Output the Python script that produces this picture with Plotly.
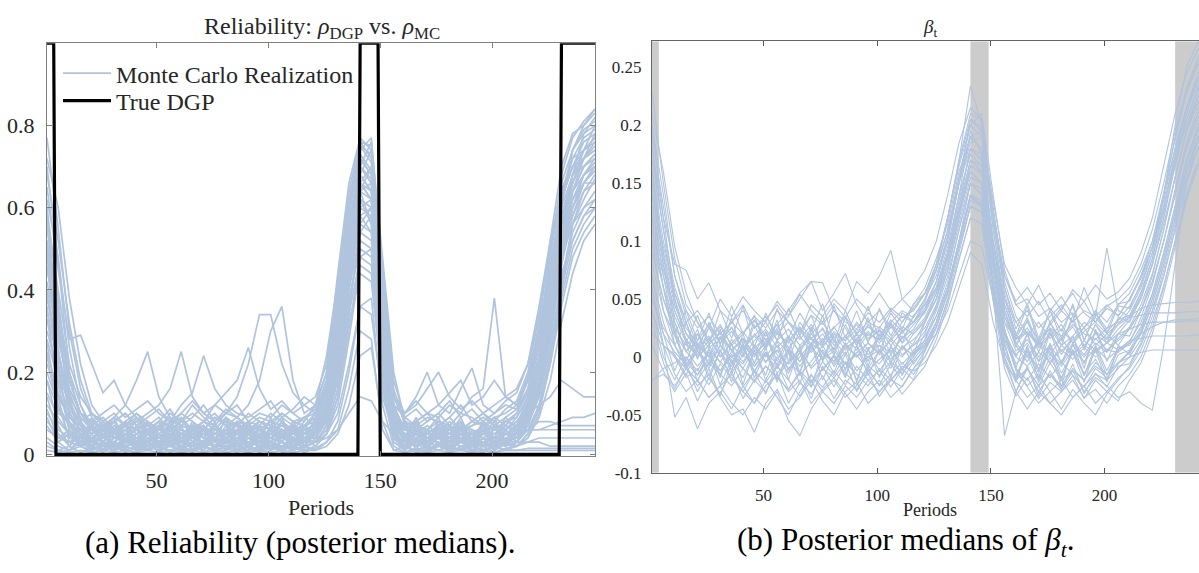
import plotly.graph_objects as go

W, H = 1199, 573

# ---------------- data ----------------
periods = list(range(1, 247, 5))  # sampling grid of the realizations (t = 1, 6, ..., 246)

# True DGP reliability (regime switch points)
dgp_periods = [1, 4, 5, 140, 141, 149, 150, 230, 231, 246]
dgp_rho = [1, 1, 0, 0, 1, 1, 0, 0, 1, 1]

# Regime shading in panel (b)
shade_start = [1, 141, 231]
shade_end = [4, 149, 246]

x_ticks = [50, 100, 150, 200]
rho_ticks = [0, 0.2, 0.4, 0.6, 0.8]
rho_tick_text = ["0", "0.2", "0.4", "0.6", "0.8"]
beta_ticks = [-0.1, -0.05, 0, 0.05, 0.1, 0.15, 0.2, 0.25]
beta_tick_text = ["-0.1", "-0.05", "0", "0.05", "0.1", "0.15", "0.2", "0.25"]

# Monte Carlo realizations of rho (panel a)
rho_run01 = [0.77,0.55,0.30,0.16,0.09,0.06,0.05,0.04,0.05,0.03, 0.04,0.05,0.03,0.04,0.06,0.04,0.03,0.05,0.04,0.03, 0.05,0.04,0.06,0.05,0.08,0.14,0.30,0.52,0.74,0.77, 0.45,0.16,0.07,0.05,0.04,0.06,0.04,0.03,0.05,0.04, 0.03,0.05,0.06,0.09,0.17,0.32,0.52,0.68,0.78,0.82]
rho_run02 = [0.72,0.60,0.38,0.22,0.12,0.08,0.06,0.07,0.05,0.06, 0.04,0.03,0.05,0.07,0.05,0.04,0.06,0.05,0.07,0.06, 0.05,0.07,0.05,0.06,0.10,0.18,0.36,0.58,0.76,0.72, 0.38,0.12,0.06,0.05,0.07,0.05,0.06,0.04,0.05,0.06, 0.05,0.06,0.08,0.12,0.22,0.40,0.60,0.74,0.80,0.84]
rho_run03 = [0.65,0.45,0.28,0.29,0.22,0.15,0.18,0.12,0.09,0.07, 0.06,0.08,0.05,0.07,0.06,0.09,0.07,0.05,0.06,0.08, 0.07,0.06,0.05,0.08,0.12,0.24,0.42,0.62,0.70,0.66, 0.34,0.14,0.08,0.06,0.05,0.07,0.06,0.08,0.05,0.07, 0.06,0.08,0.10,0.16,0.28,0.46,0.62,0.70,0.76,0.78]
rho_run04 = [0.50,0.32,0.18,0.10,0.07,0.05,0.06,0.08,0.06,0.07, 0.09,0.06,0.08,0.10,0.08,0.12,0.10,0.14,0.22,0.34, 0.34,0.22,0.15,0.12,0.10,0.16,0.30,0.48,0.64,0.70, 0.40,0.14,0.08,0.07,0.06,0.05,0.08,0.06,0.07,0.09, 0.07,0.06,0.09,0.14,0.24,0.40,0.56,0.66,0.72,0.76]
rho_run05 = [0.40,0.25,0.14,0.09,0.06,0.08,0.05,0.07,0.09,0.06, 0.08,0.11,0.07,0.09,0.12,0.08,0.10,0.09,0.12,0.18, 0.30,0.36,0.18,0.10,0.12,0.20,0.38,0.56,0.68,0.64, 0.30,0.10,0.06,0.08,0.10,0.07,0.09,0.12,0.08,0.10, 0.08,0.11,0.13,0.20,0.34,0.50,0.64,0.72,0.74,0.80]
rho_run06 = [0.30,0.20,0.12,0.08,0.10,0.07,0.09,0.12,0.18,0.25, 0.14,0.09,0.07,0.06,0.08,0.07,0.05,0.06,0.08,0.07, 0.06,0.05,0.07,0.09,0.07,0.12,0.26,0.46,0.60,0.62, 0.28,0.09,0.05,0.04,0.06,0.05,0.04,0.06,0.05,0.04, 0.06,0.05,0.07,0.10,0.18,0.30,0.46,0.58,0.66,0.70]
rho_run07 = [0.58,0.40,0.22,0.14,0.10,0.08,0.10,0.07,0.08,0.10, 0.12,0.16,0.25,0.14,0.10,0.08,0.11,0.09,0.07,0.09, 0.08,0.10,0.08,0.07,0.10,0.18,0.34,0.56,0.72,0.68, 0.36,0.12,0.09,0.11,0.08,0.10,0.13,0.09,0.11,0.08, 0.10,0.12,0.11,0.18,0.30,0.48,0.66,0.74,0.78,0.80]
rho_run08 = [0.45,0.30,0.16,0.10,0.08,0.10,0.12,0.09,0.11,0.13, 0.10,0.08,0.12,0.15,0.24,0.16,0.12,0.10,0.09,0.11, 0.13,0.09,0.11,0.14,0.12,0.16,0.28,0.44,0.58,0.60, 0.32,0.14,0.10,0.12,0.16,0.20,0.14,0.11,0.13,0.10, 0.12,0.14,0.16,0.22,0.36,0.52,0.64,0.70,0.72,0.74]
rho_run09 = [0.35,0.22,0.12,0.07,0.05,0.06,0.08,0.10,0.07,0.09, 0.11,0.08,0.10,0.13,0.10,0.12,0.15,0.18,0.26,0.16, 0.11,0.13,0.10,0.12,0.14,0.22,0.40,0.62,0.75,0.71, 0.42,0.15,0.10,0.13,0.10,0.12,0.15,0.18,0.12,0.14, 0.18,0.14,0.12,0.19,0.30,0.44,0.60,0.68,0.70,0.72]
rho_run10 = [0.25,0.15,0.08,0.05,0.04,0.06,0.05,0.07,0.06,0.05, 0.07,0.06,0.08,0.06,0.07,0.05,0.06,0.08,0.07,0.06, 0.08,0.07,0.06,0.07,0.09,0.14,0.28,0.50,0.66,0.62, 0.30,0.10,0.07,0.08,0.10,0.09,0.12,0.10,0.14,0.16, 0.38,0.14,0.12,0.18,0.28,0.42,0.56,0.64,0.68,0.70]
rho_run11 = [0.10,0.06,0.04,0.03,0.02,0.03,0.02,0.03,0.02,0.02, 0.03,0.02,0.03,0.02,0.03,0.02,0.02,0.03,0.02,0.03, 0.02,0.03,0.02,0.03,0.03,0.04,0.06,0.10,0.14,0.13, 0.08,0.05,0.03,0.02,0.03,0.02,0.03,0.02,0.02,0.03, 0.02,0.03,0.02,0.03,0.03,0.02,0.02,0.02,0.02,0.02]
rho_run12 = [0.20,0.12,0.07,0.05,0.04,0.05,0.04,0.05,0.04,0.06, 0.05,0.04,0.05,0.04,0.06,0.05,0.04,0.05,0.06,0.04, 0.05,0.04,0.05,0.04,0.05,0.08,0.18,0.34,0.48,0.46, 0.22,0.08,0.05,0.04,0.05,0.04,0.06,0.05,0.04,0.05, 0.04,0.05,0.05,0.06,0.06,0.06,0.06,0.06,0.06,0.06]
rho_run13 = [0.15,0.09,0.05,0.04,0.03,0.04,0.05,0.03,0.04,0.03, 0.05,0.04,0.03,0.05,0.04,0.03,0.04,0.05,0.03,0.04, 0.03,0.05,0.04,0.03,0.06,0.12,0.30,0.54,0.70,0.67, 0.36,0.10,0.04,0.03,0.04,0.05,0.03,0.04,0.03,0.05, 0.04,0.03,0.05,0.06,0.08,0.08,0.07,0.07,0.07,0.07]
rho_run14 = [0.55,0.35,0.18,0.10,0.06,0.04,0.05,0.06,0.04,0.05, 0.06,0.05,0.04,0.06,0.05,0.07,0.05,0.04,0.06,0.05, 0.04,0.06,0.05,0.06,0.07,0.10,0.22,0.42,0.60,0.58, 0.30,0.10,0.06,0.05,0.04,0.06,0.05,0.07,0.06,0.05, 0.07,0.06,0.08,0.10,0.12,0.14,0.18,0.16,0.14,0.14]
rho_run15 = [0.62,0.48,0.26,0.12,0.06,0.03,0.02,0.03,0.04,0.02, 0.03,0.04,0.02,0.03,0.02,0.04,0.03,0.02,0.03,0.04, 0.03,0.02,0.04,0.03,0.05,0.10,0.24,0.48,0.68,0.74, 0.44,0.12,0.04,0.02,0.03,0.04,0.02,0.03,0.04,0.03, 0.02,0.04,0.05,0.08,0.16,0.30,0.50,0.64,0.72,0.78]
rho_run16 = [0.08,0.05,0.03,0.02,0.01,0.02,0.01,0.02,0.01,0.02, 0.01,0.02,0.01,0.01,0.02,0.01,0.02,0.01,0.02,0.01, 0.02,0.01,0.02,0.01,0.02,0.05,0.14,0.34,0.56,0.60, 0.26,0.06,0.02,0.01,0.02,0.01,0.02,0.01,0.02,0.01, 0.02,0.01,0.02,0.04,0.10,0.22,0.40,0.56,0.64,0.68]
rho_run17 = [0.48,0.30,0.15,0.08,0.05,0.07,0.04,0.06,0.08,0.05, 0.07,0.09,0.06,0.05,0.08,0.06,0.09,0.07,0.05,0.08, 0.06,0.09,0.07,0.05,0.08,0.16,0.34,0.60,0.73,0.69, 0.34,0.11,0.06,0.08,0.05,0.07,0.09,0.06,0.08,0.07, 0.09,0.07,0.10,0.15,0.26,0.42,0.58,0.66,0.74,0.77]
rho_run18 = [0.38,0.24,0.13,0.07,0.04,0.03,0.05,0.04,0.03,0.05, 0.04,0.03,0.05,0.04,0.03,0.05,0.04,0.06,0.04,0.03, 0.05,0.04,0.03,0.05,0.06,0.11,0.26,0.50,0.64,0.56, 0.24,0.08,0.04,0.05,0.03,0.04,0.05,0.03,0.04,0.06, 0.04,0.05,0.07,0.12,0.20,0.36,0.54,0.62,0.66,0.66]
rho_run19 = [0.68,0.52,0.32,0.18,0.10,0.07,0.08,0.10,0.07,0.06, 0.08,0.07,0.10,0.08,0.06,0.09,0.08,0.07,0.10,0.08, 0.07,0.10,0.08,0.09,0.11,0.20,0.44,0.66,0.77,0.74, 0.46,0.18,0.09,0.07,0.09,0.08,0.07,0.10,0.09,0.07, 0.09,0.10,0.12,0.18,0.32,0.52,0.70,0.78,0.80,0.83]
rho_run20 = [0.18,0.11,0.07,0.05,0.06,0.04,0.07,0.05,0.06,0.08, 0.06,0.05,0.07,0.06,0.08,0.06,0.05,0.07,0.06,0.08, 0.07,0.05,0.07,0.06,0.07,0.12,0.24,0.40,0.54,0.52, 0.26,0.09,0.06,0.07,0.06,0.08,0.06,0.05,0.07,0.08, 0.06,0.08,0.09,0.14,0.24,0.36,0.48,0.56,0.60,0.62]
rho_run21 = [0.28,0.18,0.10,0.06,0.03,0.02,0.04,0.03,0.02,0.03, 0.02,0.04,0.03,0.02,0.03,0.02,0.03,0.04,0.02,0.03, 0.04,0.03,0.02,0.04,0.04,0.08,0.20,0.40,0.58,0.54, 0.28,0.08,0.03,0.02,0.04,0.03,0.02,0.03,0.02,0.03, 0.04,0.03,0.04,0.07,0.14,0.26,0.42,0.54,0.60,0.64]
rho_run22 = [0.42,0.28,0.16,0.10,0.08,0.06,0.09,0.07,0.10,0.08, 0.06,0.10,0.08,0.12,0.09,0.07,0.10,0.12,0.08,0.10, 0.09,0.12,0.10,0.08,0.12,0.20,0.36,0.54,0.62,0.60, 0.32,0.12,0.10,0.14,0.20,0.12,0.10,0.16,0.21,0.12, 0.10,0.13,0.15,0.22,0.34,0.50,0.62,0.70,0.74,0.76]
rho_run23 = [0.12,0.08,0.05,0.03,0.02,0.01,0.02,0.01,0.02,0.01, 0.02,0.01,0.02,0.01,0.02,0.01,0.02,0.02,0.01,0.02, 0.01,0.02,0.01,0.02,0.03,0.06,0.16,0.36,0.52,0.50, 0.20,0.05,0.02,0.01,0.02,0.01,0.02,0.01,0.02,0.01, 0.02,0.01,0.03,0.06,0.12,0.24,0.38,0.50,0.56,0.60]
rho_run24 = [0.06,0.04,0.03,0.02,0.03,0.02,0.03,0.02,0.03,0.02, 0.03,0.02,0.03,0.02,0.03,0.02,0.03,0.02,0.03,0.02, 0.03,0.02,0.03,0.02,0.03,0.05,0.10,0.22,0.36,0.34, 0.14,0.05,0.03,0.02,0.03,0.02,0.03,0.02,0.03,0.02, 0.03,0.02,0.03,0.03,0.04,0.04,0.04,0.04,0.04,0.04]
rho_run25 = [0.52,0.36,0.20,0.12,0.07,0.09,0.06,0.08,0.10,0.07, 0.05,0.07,0.09,0.06,0.08,0.10,0.07,0.09,0.06,0.07, 0.10,0.08,0.06,0.09,0.10,0.15,0.32,0.55,0.70,0.76, 0.48,0.20,0.08,0.06,0.08,0.10,0.07,0.06,0.08,0.10, 0.07,0.09,0.11,0.16,0.28,0.44,0.62,0.72,0.77,0.79]
rho_run26 = [0.22,0.14,0.09,0.06,0.05,0.07,0.05,0.04,0.06,0.04, 0.05,0.07,0.05,0.04,0.05,0.07,0.05,0.04,0.05,0.06, 0.04,0.06,0.05,0.04,0.06,0.09,0.20,0.38,0.50,0.48, 0.22,0.07,0.05,0.06,0.04,0.05,0.07,0.05,0.04,0.06, 0.05,0.07,0.06,0.10,0.18,0.30,0.44,0.52,0.58,0.60]
rho_run27 = [0.33,0.17,0.06,0.02,0.05,0.01,0.06,0.02,0.07,0.01, 0.05,0.02,0.07,0.01,0.06,0.03,0.07,0.01,0.05,0.02, 0.07,0.01,0.06,0.02,0.05,0.09,0.22,0.45,0.66,0.70, 0.36,0.07,0.01,0.06,0.02,0.07,0.01,0.05,0.02,0.06, 0.01,0.06,0.03,0.08,0.15,0.28,0.46,0.60,0.68,0.72]
rho_run28 = [0.46,0.26,0.09,0.07,0.01,0.06,0.02,0.08,0.01,0.06, 0.02,0.07,0.01,0.05,0.02,0.08,0.01,0.06,0.02,0.07, 0.01,0.06,0.02,0.07,0.03,0.12,0.30,0.52,0.70,0.66, 0.30,0.04,0.07,0.01,0.06,0.02,0.07,0.01,0.06,0.02, 0.07,0.02,0.06,0.11,0.20,0.36,0.54,0.66,0.72,0.75]
rho_run29 = [0.14,0.05,0.02,0.06,0.03,0.07,0.01,0.05,0.03,0.08, 0.02,0.06,0.03,0.07,0.02,0.05,0.08,0.02,0.06,0.01, 0.05,0.08,0.02,0.06,0.04,0.08,0.18,0.36,0.54,0.58, 0.24,0.06,0.02,0.07,0.03,0.06,0.01,0.07,0.03,0.08, 0.02,0.05,0.04,0.09,0.16,0.30,0.48,0.58,0.64,0.66]
rho_run30 = [0.60,0.38,0.14,0.04,0.07,0.03,0.06,0.01,0.05,0.07, 0.03,0.06,0.01,0.07,0.04,0.02,0.06,0.03,0.08,0.02, 0.06,0.03,0.07,0.02,0.06,0.13,0.32,0.58,0.75,0.73, 0.40,0.09,0.03,0.06,0.01,0.07,0.03,0.06,0.02,0.07, 0.03,0.07,0.05,0.12,0.24,0.42,0.62,0.74,0.79,0.81]
rho_run31 = [0.04,0.02,0.01,0.04,0.01,0.03,0.01,0.04,0.01,0.03, 0.01,0.04,0.01,0.03,0.01,0.04,0.01,0.03,0.01,0.04, 0.01,0.03,0.01,0.04,0.02,0.05,0.12,0.28,0.46,0.44, 0.16,0.03,0.01,0.04,0.01,0.03,0.01,0.04,0.01,0.03, 0.01,0.04,0.02,0.05,0.11,0.22,0.36,0.48,0.54,0.58]
rho_run32 = [0.24,0.10,0.08,0.03,0.09,0.04,0.08,0.03,0.09,0.05, 0.08,0.03,0.09,0.04,0.07,0.03,0.09,0.05,0.08,0.03, 0.09,0.04,0.08,0.03,0.09,0.15,0.34,0.54,0.66,0.62, 0.28,0.08,0.04,0.09,0.03,0.08,0.05,0.09,0.03,0.08, 0.04,0.09,0.06,0.13,0.22,0.38,0.56,0.68,0.74,0.77]
rho_run33 = [0.52,0.31,0.12,0.05,0.02,0.05,0.03,0.06,0.02,0.05, 0.03,0.06,0.02,0.04,0.06,0.02,0.05,0.03,0.06,0.02, 0.04,0.06,0.02,0.05,0.05,0.10,0.26,0.50,0.68,0.64, 0.32,0.06,0.02,0.05,0.03,0.06,0.02,0.05,0.03,0.06, 0.02,0.05,0.04,0.09,0.18,0.34,0.52,0.64,0.70,0.73]
rho_run34 = [0.09,0.03,0.05,0.02,0.07,0.02,0.04,0.07,0.02,0.05, 0.07,0.02,0.05,0.02,0.07,0.03,0.05,0.07,0.02,0.06, 0.02,0.05,0.07,0.02,0.06,0.10,0.24,0.46,0.62,0.60, 0.26,0.05,0.07,0.02,0.05,0.07,0.02,0.06,0.02,0.05, 0.07,0.02,0.06,0.08,0.14,0.26,0.42,0.56,0.62,0.67]
rho_run35 = [0.70,0.47,0.20,0.08,0.03,0.08,0.04,0.07,0.03,0.08, 0.04,0.07,0.03,0.08,0.04,0.07,0.03,0.08,0.05,0.07, 0.03,0.08,0.04,0.07,0.08,0.17,0.40,0.64,0.76,0.75, 0.44,0.12,0.04,0.08,0.03,0.07,0.04,0.08,0.03,0.07, 0.04,0.08,0.07,0.14,0.28,0.48,0.68,0.77,0.81,0.84]
rho_run36 = [0.18,0.07,0.02,0.05,0.01,0.06,0.02,0.04,0.01,0.06, 0.02,0.05,0.01,0.06,0.02,0.04,0.01,0.06,0.02,0.05, 0.01,0.06,0.02,0.04,0.03,0.07,0.16,0.32,0.44,0.42, 0.18,0.04,0.01,0.06,0.02,0.05,0.01,0.06,0.02,0.04, 0.01,0.06,0.03,0.06,0.06,0.07,0.08,0.09,0.09,0.10]
rho_run37 = [0.40,0.20,0.07,0.03,0.06,0.03,0.07,0.04,0.06,0.03, 0.07,0.04,0.06,0.03,0.07,0.04,0.06,0.03,0.07,0.04, 0.06,0.03,0.07,0.04,0.07,0.14,0.36,0.60,0.72,0.68, 0.34,0.08,0.03,0.07,0.04,0.06,0.03,0.07,0.04,0.06, 0.03,0.07,0.06,0.11,0.22,0.40,0.58,0.68,0.72,0.74]
rho_run38 = [0.27,0.12,0.04,0.08,0.02,0.06,0.09,0.03,0.07,0.02, 0.06,0.09,0.03,0.07,0.02,0.06,0.09,0.03,0.07,0.02, 0.06,0.09,0.03,0.07,0.05,0.11,0.28,0.50,0.62,0.56, 0.22,0.05,0.08,0.02,0.06,0.09,0.03,0.07,0.02,0.06, 0.09,0.03,0.07,0.10,0.18,0.32,0.50,0.62,0.68,0.71]
rho_run39 = [0.57,0.34,0.11,0.02,0.04,0.01,0.03,0.05,0.01,0.04, 0.02,0.05,0.01,0.03,0.05,0.01,0.04,0.02,0.05,0.01, 0.03,0.05,0.01,0.04,0.04,0.09,0.24,0.48,0.64,0.62, 0.30,0.05,0.01,0.04,0.02,0.05,0.01,0.03,0.05,0.01, 0.04,0.02,0.05,0.08,0.16,0.32,0.50,0.62,0.68,0.70]
rho_run40 = [0.11,0.04,0.06,0.03,0.08,0.02,0.05,0.08,0.03,0.06, 0.02,0.08,0.04,0.06,0.02,0.07,0.04,0.08,0.02,0.05, 0.08,0.03,0.06,0.02,0.07,0.12,0.26,0.44,0.56,0.54, 0.24,0.07,0.03,0.08,0.02,0.06,0.04,0.08,0.02,0.05, 0.08,0.03,0.05,0.10,0.20,0.34,0.50,0.60,0.66,0.69]
rho_run41 = [0.03,0.01,0.02,0.005,0.015,0.005,0.02,0.005,0.015,0.01, 0.02,0.005,0.015,0.005,0.02,0.01,0.015,0.005,0.02,0.005, 0.015,0.01,0.02,0.005,0.015,0.03,0.08,0.20,0.36,0.38, 0.12,0.02,0.005,0.015,0.005,0.02,0.01,0.015,0.005,0.02, 0.005,0.015,0.02,0.04,0.09,0.18,0.32,0.44,0.52,0.56]
rho_run42 = [0.01,0.005,0.01,0.02,0.005,0.01,0.025,0.01,0.005,0.02, 0.01,0.03,0.005,0.01,0.025,0.005,0.01,0.02,0.005,0.015, 0.03,0.005,0.01,0.02,0.01,0.02,0.05,0.12,0.24,0.26, 0.08,0.01,0.02,0.005,0.01,0.025,0.005,0.02,0.01,0.005, 0.02,0.01,0.01,0.015,0.015,0.015,0.015,0.015,0.015,0.015]
rho_run43 = [0.50,0.22,0.05,0.02,0.035,0.01,0.03,0.015,0.04,0.01, 0.03,0.02,0.04,0.01,0.035,0.015,0.03,0.01,0.04,0.02, 0.03,0.01,0.035,0.015,0.03,0.07,0.20,0.44,0.64,0.66, 0.30,0.04,0.01,0.035,0.015,0.04,0.01,0.03,0.02,0.04, 0.01,0.035,0.03,0.07,0.15,0.30,0.48,0.60,0.66,0.70]
rho_run44 = [0.07,0.03,0.01,0.03,0.01,0.025,0.005,0.03,0.015,0.035, 0.005,0.025,0.01,0.03,0.005,0.02,0.035,0.01,0.025,0.005, 0.03,0.015,0.035,0.01,0.02,0.05,0.14,0.30,0.48,0.50, 0.18,0.03,0.01,0.03,0.005,0.025,0.015,0.035,0.005,0.03, 0.01,0.025,0.02,0.05,0.12,0.24,0.40,0.52,0.58,0.62]
rho_run45 = [0.36,0.14,0.03,0.045,0.02,0.05,0.015,0.04,0.025,0.05, 0.015,0.045,0.02,0.05,0.01,0.04,0.025,0.05,0.015,0.045, 0.02,0.05,0.015,0.04,0.04,0.09,0.26,0.50,0.66,0.64, 0.26,0.04,0.02,0.05,0.015,0.045,0.02,0.05,0.01,0.04, 0.025,0.05,0.04,0.09,0.18,0.34,0.52,0.64,0.70,0.73]
rho_run46 = [0.02,0.01,0.005,0.01,0.005,0.01,0.005,0.01,0.005,0.01, 0.005,0.01,0.005,0.01,0.005,0.01,0.005,0.01,0.005,0.01, 0.005,0.01,0.005,0.01,0.01,0.03,0.06,0.16,0.30,0.28, 0.06,0.01,0.005,0.01,0.005,0.01,0.005,0.01,0.005,0.01, 0.005,0.01,0.01,0.01,0.01,0.01,0.01,0.01,0.01,0.01]

# Monte Carlo posterior medians of beta_t (panel b)
beta_run01 = [0.229,0.150,0.085,0.045,0.030,0.012,0.020,0.005,0.015,-0.005, 0.010,0.022,0.008,-0.004,0.012,0.025,0.010,0.018,0.006,0.020, 0.015,0.028,0.020,0.035,0.050,0.080,0.120,0.170,0.234,0.200, 0.120,0.065,0.035,0.020,0.012,0.025,0.010,0.018,0.030,0.022, 0.015,0.028,0.040,0.060,0.090,0.140,0.200,0.250,0.272,0.270]
beta_run02 = [0.200,0.140,0.070,0.035,0.010,0.000,-0.015,0.005,-0.010,0.008, -0.005,0.010,-0.012,0.004,-0.008,0.006,-0.004,0.012,0.000,0.008, 0.010,0.004,0.016,0.024,0.040,0.065,0.100,0.150,0.205,0.195, 0.110,0.050,0.020,0.000,0.012,-0.006,0.010,0.002,0.014,0.006, 0.012,0.020,0.032,0.050,0.080,0.120,0.170,0.210,0.240,0.255]
beta_run03 = [0.180,0.120,0.080,0.075,0.050,0.064,0.040,0.030,0.045,0.025, 0.035,0.020,0.030,0.015,0.028,0.012,0.025,0.035,0.020,0.030, 0.025,0.040,0.030,0.045,0.060,0.085,0.115,0.160,0.190,0.180, 0.120,0.070,0.045,0.050,0.035,0.042,0.030,0.038,0.025,0.040, 0.030,0.045,0.055,0.075,0.100,0.140,0.180,0.215,0.235,0.245]
beta_run04 = [0.060,0.010,-0.052,-0.035,-0.062,-0.040,-0.030,-0.045,-0.025,-0.040, -0.020,-0.035,-0.050,-0.030,-0.015,-0.030,-0.020,-0.035,-0.025,-0.010, -0.025,-0.015,-0.005,-0.015,0.000,0.020,0.050,0.090,0.130,0.125, 0.060,0.010,-0.020,-0.010,-0.030,-0.015,-0.025,-0.010,-0.020,-0.005, -0.015,-0.005,0.005,0.020,0.045,0.080,0.120,0.160,0.190,0.200]
beta_run05 = [0.110,0.060,0.020,-0.010,-0.020,-0.035,-0.025,-0.040,-0.050,-0.035, -0.045,-0.030,-0.055,-0.068,-0.045,-0.030,-0.040,-0.025,-0.035,-0.020, -0.030,-0.020,-0.010,-0.020,0.005,0.030,0.060,0.100,0.150,0.140, 0.080,0.025,-0.010,-0.025,-0.015,-0.030,-0.020,-0.035,-0.025,-0.015, -0.020,-0.010,0.000,0.015,0.040,0.070,0.110,0.150,0.180,0.190]
beta_run06 = [0.150,0.090,0.050,0.020,0.010,0.025,0.015,0.030,0.020,0.035, 0.025,0.040,0.030,0.020,0.045,0.035,0.050,0.040,0.065,0.055, 0.070,0.092,0.050,0.040,0.055,0.075,0.110,0.150,0.180,0.170, 0.100,0.050,0.030,0.040,0.025,0.035,0.045,0.030,0.040,0.035, 0.045,0.035,0.050,0.070,0.095,0.130,0.170,0.200,0.225,0.240]
beta_run07 = [0.130,0.080,0.040,0.015,0.000,0.010,-0.005,0.015,0.005,0.020, 0.010,0.025,0.035,0.050,0.065,0.040,0.055,0.072,0.045,0.030, 0.040,0.025,0.035,0.030,0.045,0.060,0.090,0.130,0.170,0.160, 0.090,0.040,0.015,0.025,0.010,0.020,0.005,0.015,0.025,0.010, 0.020,0.010,0.025,0.040,0.065,0.100,0.145,0.185,0.215,0.230]
beta_run08 = [0.020,0.010,0.000,-0.010,0.005,-0.005,0.010,0.000,0.008,-0.008, 0.004,-0.006,0.006,-0.004,0.008,-0.002,0.005,-0.006,0.004,0.000, 0.006,-0.004,0.008,0.002,0.010,0.020,0.040,0.070,0.100,0.095, 0.050,0.015,0.000,-0.008,0.004,-0.004,0.006,-0.002,0.008,0.000, 0.006,0.004,0.012,0.020,0.026,0.030,0.030,0.031,0.031,0.031]
beta_run09 = [0.090,0.050,0.025,0.010,0.020,0.008,0.015,0.025,0.012,0.018, 0.008,0.020,0.012,0.025,0.015,0.010,0.020,0.014,0.024,0.016, 0.022,0.014,0.026,0.020,0.030,0.050,0.080,0.120,0.160,0.150, 0.080,0.030,0.015,0.022,0.012,0.025,0.018,0.028,0.020,0.015, 0.025,0.030,0.035,0.042,0.045,0.046,0.047,0.047,0.048,0.048]
beta_run10 = [-0.020,-0.015,-0.025,-0.010,-0.020,-0.005,-0.015,-0.025,-0.010,-0.020, -0.008,-0.018,-0.028,-0.012,-0.022,-0.010,-0.018,-0.005,-0.015,-0.025, -0.010,-0.020,-0.008,-0.012,-0.005,0.010,0.030,0.060,0.090,0.080, 0.030,-0.005,-0.020,-0.010,-0.025,-0.015,-0.028,-0.012,-0.020,-0.008, -0.015,-0.005,0.000,0.004,0.006,0.006,0.006,0.006,0.006,0.006]
beta_run11 = [0.170,0.110,0.060,0.030,0.005,-0.010,0.010,-0.005,0.008,-0.012, 0.002,-0.010,0.006,-0.016,-0.004,0.010,-0.008,0.004,-0.012,0.000, -0.006,0.008,0.000,0.012,0.030,0.055,0.090,0.140,0.195,0.175, 0.060,-0.068,-0.030,-0.010,-0.025,-0.005,-0.020,-0.012,-0.030,-0.018, -0.025,-0.035,-0.030,-0.040,-0.046,0.010,0.080,0.150,0.190,0.210]
beta_run12 = [0.140,0.085,0.045,0.020,0.008,0.018,0.000,0.012,0.022,0.008, 0.016,0.004,0.014,0.026,0.010,0.020,0.006,0.018,0.028,0.014, 0.024,0.010,0.022,0.030,0.040,0.060,0.095,0.140,0.175,0.165, 0.095,0.045,0.020,0.030,0.015,0.028,0.040,0.030,0.060,0.035, 0.094,0.040,0.035,0.055,0.085,0.125,0.165,0.205,0.230,0.245]
beta_run13 = [0.040,0.010,-0.015,-0.030,-0.020,-0.035,-0.025,-0.015,-0.030,-0.040, -0.025,-0.015,-0.030,-0.020,-0.040,-0.028,-0.018,-0.032,-0.045,-0.030, -0.020,-0.035,-0.025,-0.010,0.005,0.025,0.055,0.095,0.140,0.130, 0.065,0.010,-0.020,-0.035,-0.025,-0.040,-0.030,-0.020,-0.035,-0.028, -0.040,-0.025,-0.015,0.000,0.025,0.060,0.100,0.140,0.170,0.185]
beta_run14 = [0.080,0.040,0.010,-0.010,-0.025,-0.015,-0.035,-0.050,-0.045,-0.065, -0.040,-0.028,-0.045,-0.035,-0.020,-0.038,-0.050,-0.030,-0.022,-0.040, -0.030,-0.018,-0.032,-0.020,-0.008,0.015,0.045,0.085,0.120,0.115, 0.050,0.000,-0.030,-0.045,-0.030,-0.040,-0.050,-0.035,-0.025,-0.040, -0.030,-0.038,-0.020,-0.005,0.020,0.055,0.095,0.135,0.165,0.180]
beta_run15 = [0.190,0.130,0.070,0.040,0.025,0.035,0.020,0.030,0.040,0.025, 0.032,0.045,0.030,0.022,0.036,0.028,0.040,0.030,0.024,0.038, 0.030,0.042,0.034,0.040,0.055,0.080,0.120,0.165,0.200,0.210, 0.140,0.075,0.045,0.035,0.048,0.030,0.042,0.055,0.038,0.030, 0.044,0.050,0.060,0.080,0.110,0.150,0.195,0.230,0.255,0.262]
beta_run16 = [0.100,0.060,0.030,0.005,-0.008,0.004,-0.012,0.002,-0.006,0.010, -0.004,0.006,-0.010,0.000,0.012,0.004,-0.006,0.008,0.014,0.002, 0.010,-0.002,0.008,0.015,0.025,0.045,0.075,0.115,0.155,0.150, 0.085,0.030,0.005,0.015,0.000,0.010,-0.004,0.012,0.002,0.016, 0.006,0.014,0.024,0.040,0.065,0.100,0.140,0.180,0.205,0.220]
beta_run17 = [-0.021,-0.010,-0.005,0.000,-0.012,0.006,-0.004,-0.014,0.002,-0.008, 0.004,-0.014,-0.004,0.006,-0.010,0.000,0.008,-0.006,0.002,-0.012, -0.002,0.006,-0.006,0.004,0.012,0.030,0.060,0.100,0.140,0.135, 0.070,0.020,-0.006,0.004,-0.010,0.002,-0.008,0.006,-0.004,0.008, -0.002,0.006,0.014,0.030,0.055,0.090,0.130,0.170,0.200,0.215]
beta_run18 = [0.160,0.100,0.055,0.030,0.040,0.025,0.050,0.035,0.052,0.040, 0.030,0.048,0.036,0.054,0.040,0.030,0.046,0.034,0.050,0.040, 0.055,0.040,0.050,0.060,0.075,0.100,0.140,0.185,0.215,0.205, 0.125,0.070,0.048,0.060,0.045,0.055,0.040,0.058,0.048,0.062, 0.050,0.056,0.068,0.090,0.120,0.165,0.210,0.245,0.265,0.270]
beta_run19 = [0.120,0.075,0.040,0.015,0.002,0.014,0.026,0.010,0.020,0.032, 0.018,0.028,0.040,0.055,0.065,0.064,0.040,0.025,0.010,0.022, 0.012,0.026,0.016,0.028,0.038,0.058,0.088,0.125,0.165,0.160, 0.090,0.035,0.010,-0.004,0.012,0.002,0.016,0.026,0.010,0.020, 0.012,0.024,0.034,0.052,0.080,0.115,0.155,0.195,0.220,0.235]
beta_run20 = [0.050,0.020,0.004,-0.006,0.006,0.016,0.002,-0.008,0.010,0.000, 0.014,0.002,-0.006,0.008,0.016,0.004,-0.004,0.010,0.000,0.012, 0.004,0.014,0.002,0.010,0.018,0.035,0.060,0.095,0.130,0.125, 0.060,0.020,0.002,0.012,-0.004,0.008,0.016,0.002,0.010,0.004, 0.012,0.006,0.014,0.016,0.018,0.018,0.018,0.018,0.019,0.019]
beta_run21 = [0.210,0.160,0.095,0.055,0.030,0.015,0.028,0.010,0.000,0.014, 0.024,0.008,0.018,0.004,0.020,0.030,0.014,0.002,0.016,0.026, 0.018,0.030,0.040,0.034,0.050,0.070,0.105,0.150,0.185,0.190, 0.130,0.060,0.030,0.018,0.030,0.016,0.024,0.012,0.026,0.034, 0.022,0.032,0.044,0.062,0.090,0.130,0.175,0.215,0.245,0.255]
beta_run22 = [0.070,0.030,0.000,-0.018,-0.010,-0.024,-0.006,-0.018,-0.030,-0.012, -0.022,-0.008,-0.020,-0.034,-0.016,-0.026,-0.012,-0.024,-0.008,-0.020, -0.012,-0.026,-0.010,0.000,0.015,0.040,0.070,0.110,0.150,0.145, 0.075,0.020,-0.012,-0.026,-0.040,-0.030,-0.045,-0.028,-0.040,-0.050, -0.032,-0.020,-0.008,0.010,0.035,0.070,0.110,0.150,0.180,0.195]
beta_run23 = [0.140,0.095,0.055,0.025,0.012,0.000,0.016,0.006,-0.004,0.010, 0.000,0.014,0.004,-0.008,0.006,0.016,0.002,-0.010,0.004,0.012, 0.002,0.016,0.006,0.020,0.032,0.050,0.085,0.130,0.180,0.170, 0.100,0.040,0.012,0.000,0.014,0.004,-0.006,0.010,0.000,0.012, 0.004,0.016,0.026,0.045,0.072,0.110,0.155,0.195,0.225,0.240]
beta_run24 = [0.090,0.050,0.020,0.005,0.014,0.028,0.012,0.022,0.008,0.018, 0.030,0.014,0.024,0.010,0.020,0.008,0.022,0.014,0.030,0.018, 0.026,0.016,0.030,0.042,0.055,0.075,0.110,0.155,0.190,0.195, 0.135,0.080,0.060,0.045,0.062,0.040,0.052,0.036,0.048,0.030, 0.042,0.036,0.050,0.068,0.095,0.135,0.180,0.215,0.240,0.250]
beta_run25 = [0.050,0.025,0.010,-0.005,-0.015,-0.002,-0.012,0.000,-0.010,-0.022, -0.008,-0.018,-0.004,-0.014,-0.026,-0.010,0.000,-0.014,-0.024,-0.008, -0.016,-0.004,-0.014,-0.002,0.010,0.030,0.060,0.100,0.135,0.130, 0.065,0.015,-0.010,-0.020,-0.006,-0.018,-0.004,-0.016,-0.026,-0.010, -0.018,-0.006,0.004,0.020,0.045,0.080,0.120,0.160,0.185,0.200]
beta_run26 = [0.110,0.070,0.035,0.012,0.000,0.010,0.022,0.006,0.016,0.002, 0.012,0.024,0.008,0.018,0.004,0.014,0.026,0.010,0.020,0.006, 0.016,0.028,0.012,0.022,0.034,0.055,0.085,0.125,0.160,0.150, 0.085,0.035,0.012,0.022,0.008,0.018,0.028,0.012,0.022,0.030, 0.020,0.028,0.034,0.036,0.038,0.038,0.038,0.039,0.039,0.039]
beta_run27 = [0.160,0.090,0.030,0.004,0.024,-0.008,0.018,-0.012,0.020,-0.006, 0.022,-0.010,0.016,-0.014,0.024,-0.004,0.018,-0.012,0.022,-0.008, 0.020,-0.006,0.024,0.002,0.030,0.050,0.090,0.135,0.180,0.175, 0.090,0.020,-0.010,0.020,-0.012,0.022,-0.006,0.018,-0.010,0.024, -0.004,0.020,0.018,0.040,0.070,0.110,0.155,0.195,0.220,0.235]
beta_run28 = [0.070,0.020,-0.012,0.014,-0.022,0.008,-0.018,0.012,-0.024,0.006, -0.016,0.014,-0.020,0.010,-0.026,0.004,-0.014,0.012,-0.022,0.008, -0.018,0.010,-0.012,0.006,0.014,0.035,0.065,0.110,0.150,0.140, 0.060,0.000,-0.022,0.010,-0.020,0.008,-0.026,0.012,-0.016,0.006, -0.022,0.010,0.002,0.022,0.050,0.085,0.125,0.165,0.195,0.210]
beta_run29 = [0.120,0.060,0.010,0.030,-0.002,0.026,0.004,0.034,0.000,0.028, 0.006,0.032,-0.004,0.024,0.008,0.036,0.002,0.028,0.010,0.034, 0.004,0.030,0.012,0.036,0.045,0.065,0.100,0.150,0.190,0.180, 0.100,0.040,0.008,0.032,0.004,0.030,0.010,0.036,0.006,0.028, 0.012,0.034,0.030,0.052,0.080,0.120,0.165,0.205,0.232,0.248]
beta_run30 = [0.030,-0.005,-0.028,-0.006,-0.030,-0.010,-0.034,-0.004,-0.026,-0.012, -0.032,-0.006,-0.028,-0.014,-0.036,-0.008,-0.026,-0.004,-0.030,-0.012, -0.024,-0.006,-0.020,-0.004,0.006,0.026,0.055,0.095,0.130,0.125, 0.055,-0.004,-0.030,-0.008,-0.034,-0.012,-0.028,-0.006,-0.032,-0.014, -0.026,-0.008,-0.006,0.012,0.040,0.075,0.115,0.155,0.180,0.195]
beta_run31 = [0.200,0.120,0.050,0.012,0.036,0.010,0.040,0.016,0.044,0.008, 0.038,0.014,0.042,0.018,0.036,0.010,0.044,0.016,0.040,0.012, 0.042,0.018,0.038,0.030,0.048,0.075,0.120,0.170,0.210,0.205, 0.120,0.055,0.018,0.044,0.012,0.040,0.016,0.046,0.014,0.038, 0.020,0.044,0.042,0.064,0.095,0.140,0.190,0.232,0.258,0.265]
beta_run32 = [0.060,0.010,0.002,-0.016,0.010,-0.020,0.006,-0.012,0.012,-0.018, 0.004,-0.022,0.008,-0.014,0.012,-0.020,0.002,-0.016,0.010,-0.010, 0.006,-0.018,0.010,-0.006,0.008,0.026,0.056,0.100,0.140,0.132, 0.060,0.004,-0.018,0.008,-0.014,0.012,-0.020,0.006,-0.016,0.010, -0.012,0.008,0.010,0.026,0.054,0.090,0.130,0.170,0.198,0.212]
beta_run33 = [0.100,0.040,0.018,-0.004,0.020,0.000,0.024,-0.006,0.016,0.002, 0.022,-0.004,0.018,0.004,0.026,-0.002,0.020,0.006,0.016,-0.004, 0.024,0.002,0.018,0.010,0.022,0.042,0.075,0.120,0.165,0.158, 0.080,0.022,0.000,0.020,-0.004,0.024,0.002,0.018,-0.006,0.022, 0.004,0.020,0.024,0.028,0.030,0.030,0.032,0.032,0.033,0.033]
beta_run34 = [0.150,0.080,0.025,-0.010,0.012,-0.016,0.006,-0.022,0.010,-0.014, 0.008,-0.020,0.004,-0.024,0.012,-0.012,0.002,-0.018,0.010,-0.016, 0.006,-0.010,0.010,0.000,0.020,0.044,0.080,0.125,0.170,0.165, 0.080,0.012,-0.020,0.006,-0.018,0.010,-0.014,0.004,-0.022,0.008, -0.016,0.006,0.012,0.034,0.062,0.100,0.142,0.182,0.210,0.225]
beta_run35 = [0.180,0.110,0.045,0.020,0.006,0.030,0.012,0.026,0.002,0.032, 0.014,0.028,0.004,0.030,0.016,0.024,0.006,0.034,0.012,0.028, 0.018,0.032,0.022,0.030,0.042,0.065,0.105,0.155,0.200,0.190, 0.110,0.045,0.016,0.034,0.010,0.030,0.014,0.032,0.008,0.028, 0.016,0.032,0.036,0.056,0.085,0.128,0.175,0.215,0.240,0.255]
beta_run36 = [0.010,-0.012,-0.030,-0.014,-0.038,-0.018,-0.032,-0.012,-0.036,-0.020, -0.030,-0.014,-0.040,-0.022,-0.032,-0.016,-0.036,-0.020,-0.028,-0.014, -0.034,-0.020,-0.026,-0.010,0.000,0.020,0.048,0.085,0.120,0.115, 0.048,-0.010,-0.034,-0.018,-0.036,-0.022,-0.030,-0.016,-0.036,-0.020, -0.030,-0.018,-0.010,0.006,0.030,0.062,0.100,0.138,0.165,0.178]
beta_run37 = [0.130,0.070,0.020,0.040,0.014,0.038,0.010,0.044,0.020,0.036, 0.008,0.042,0.016,0.038,0.022,0.046,0.012,0.040,0.018,0.044, 0.014,0.038,0.024,0.046,0.055,0.080,0.120,0.168,0.205,0.198, 0.115,0.060,0.024,0.046,0.016,0.040,0.022,0.044,0.014,0.038, 0.024,0.046,0.048,0.070,0.100,0.142,0.188,0.228,0.252,0.262]
beta_run38 = [0.040,0.000,-0.020,0.000,-0.016,0.004,-0.024,-0.002,-0.018,0.006, -0.020,0.000,-0.014,0.004,-0.022,-0.004,-0.016,0.002,-0.020,0.006, -0.012,0.002,-0.016,0.004,0.010,0.030,0.060,0.100,0.138,0.130, 0.058,0.004,-0.016,0.002,-0.022,0.000,-0.018,0.004,-0.014,-0.002, -0.020,0.002,0.006,0.024,0.050,0.085,0.125,0.160,0.188,0.200]

rho_runs = [rho_run01, rho_run02, rho_run03, rho_run04, rho_run05, rho_run06, rho_run07,
            rho_run08, rho_run09, rho_run10, rho_run11, rho_run12, rho_run13, rho_run14,
            rho_run15, rho_run16, rho_run17, rho_run18, rho_run19, rho_run20, rho_run21,
            rho_run22, rho_run23, rho_run24, rho_run25, rho_run26, rho_run27, rho_run28,
            rho_run29, rho_run30, rho_run31, rho_run32, rho_run33, rho_run34, rho_run35,
            rho_run36, rho_run37, rho_run38, rho_run39, rho_run40, rho_run41, rho_run42,
            rho_run43, rho_run44, rho_run45, rho_run46]
beta_runs = [beta_run01, beta_run02, beta_run03, beta_run04, beta_run05, beta_run06, beta_run07,
             beta_run08, beta_run09, beta_run10, beta_run11, beta_run12, beta_run13, beta_run14,
             beta_run15, beta_run16, beta_run17, beta_run18, beta_run19, beta_run20, beta_run21,
             beta_run22, beta_run23, beta_run24, beta_run25, beta_run26, beta_run27, beta_run28,
             beta_run29, beta_run30, beta_run31, beta_run32, beta_run33, beta_run34, beta_run35,
             beta_run36, beta_run37, beta_run38]

# ---------------- figure ----------------
MC_COLOR = "#b0c4de"
SERIF = "Liberation Serif, Times New Roman, serif"
TXT = "#262626"


def px(x):
    return x / W


def py(y):
    return 1 - y / H


fig = go.Figure()

for k, run in enumerate(rho_runs):
    fig.add_trace(go.Scatter(
        x=periods, y=run, mode="lines", xaxis="x", yaxis="y",
        line=dict(color=MC_COLOR, width=1.7),
        name="Monte Carlo Realization", legend="legend",
        showlegend=(k == 0), hoverinfo="skip"))

fig.add_trace(go.Scatter(
    x=dgp_periods, y=dgp_rho, mode="lines", xaxis="x", yaxis="y",
    line=dict(color="black", width=3.2), name="True DGP", legend="legend2"))

for run in beta_runs:
    fig.add_trace(go.Scatter(
        x=periods, y=run, mode="lines", xaxis="x2", yaxis="y2",
        line=dict(color=MC_COLOR, width=1.1), showlegend=False, hoverinfo="skip"))

for s, e in zip(shade_start, shade_end):
    fig.add_shape(type="rect", xref="x2", yref="y2", x0=s, x1=e, y0=-0.1, y1=0.2726,
                  fillcolor="#cccccc", line=dict(width=0), layer="below")

left_axis = dict(showgrid=False, zeroline=False, showline=True, linecolor="#808080",
                 linewidth=1, ticks="inside", ticklen=5, tickcolor="#808080",
                 mirror="allticks", tickfont=dict(family=SERIF, size=22, color=TXT))

legend_common = dict(xanchor="left", yanchor="middle", bgcolor="rgba(0,0,0,0)",
                     font=dict(family=SERIF, size=24, color=TXT), itemwidth=48,
                     borderwidth=0)

fig.update_layout(
    width=W, height=H, autosize=False, margin=dict(l=0, r=0, t=0, b=0),
    paper_bgcolor="white", plot_bgcolor="white",
    xaxis=dict(left_axis, domain=[px(47), px(595)], range=[1, 246], tickvals=x_ticks,
               anchor="y", ticklabelstandoff=5),
    yaxis=dict(left_axis, domain=[py(465), py(44)], range=[-0.004, 1.0], tickvals=rho_ticks,
               ticktext=rho_tick_text, anchor="x", ticklabelstandoff=7),
    xaxis2=dict(showgrid=False, zeroline=False, showline=True, linecolor="#666666",
                linewidth=1, ticks="inside", ticklen=5, tickcolor="#555555", mirror="allticks",
                domain=[px(652), 1.0], range=[1, 241.5], tickvals=x_ticks, anchor="y2",
                tickfont=dict(family=SERIF, size=17, color=TXT), ticklabelstandoff=7),
    yaxis2=dict(showgrid=False, zeroline=False, showline=True, linecolor="#666666",
                linewidth=1, ticks="", mirror=False,
                domain=[py(482), py(42)], range=[-0.1, 0.2726], tickvals=beta_ticks,
                ticktext=beta_tick_text, anchor="x2",
                tickfont=dict(family=SERIF, size=17, color=TXT), ticklabelstandoff=6),
    legend=dict(legend_common, x=px(58), y=py(75)),
    legend2=dict(legend_common, x=px(58), y=py(103)),
    showlegend=True,
)

annotations = [
    dict(text="Reliability: <i>ρ</i><sub>DGP</sub> vs. <i>ρ</i><sub>MC</sub>",
         x=px(322), y=py(29), font=dict(family=SERIF, size=24, color=TXT)),
    dict(text="Periods", x=px(321), y=py(517), font=dict(family=SERIF, size=22, color=TXT)),
    dict(text="<i>β</i><sub>t</sub>", x=px(930), y=py(29),
         font=dict(family=SERIF, size=19, color=TXT)),
    dict(text="Periods", x=px(930), y=py(520), font=dict(family=SERIF, size=18, color=TXT)),
    dict(text="(a) Reliability (posterior medians).", x=px(300), y=py(553),
         font=dict(family=SERIF, size=31, color="black")),
    dict(text="(b) Posterior medians of <i>β<sub>t</sub></i>.", x=px(905), y=py(553),
         font=dict(family=SERIF, size=31, color="black")),
]
for a in annotations:
    fig.add_annotation(xref="paper", yref="paper", showarrow=False,
                       xanchor="center", yanchor="middle", **a)

fig.write_html(
    "out.html",
    config={"displayModeBar": False, "responsive": False},
    post_script=("document.body.style.margin='0px';"
                 "document.documentElement.style.overflow='hidden';"
                 "document.body.style.overflow='hidden';"
                 "var gd=document.getElementById('{plot_id}');"
                 "gd.style.position='fixed';gd.style.top='0px';gd.style.left='0px';"),
)
